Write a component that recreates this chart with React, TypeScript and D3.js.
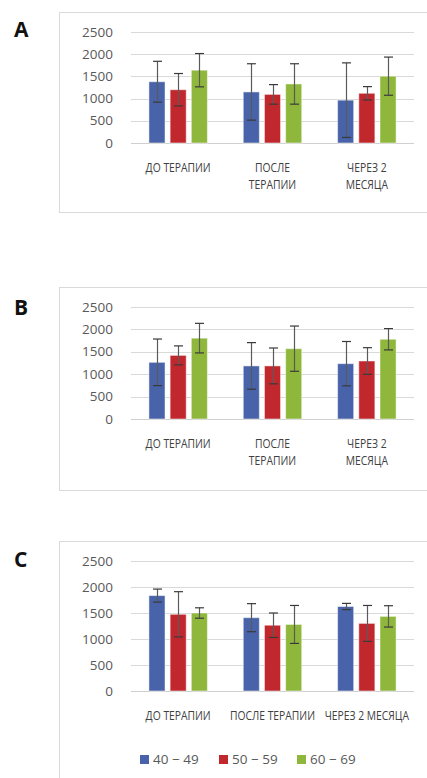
import React, { useEffect, useRef } from "react";
import * as d3 from "d3";

const categories = ["ДО ТЕРАПИИ", "ПОСЛЕ ТЕРАПИИ", "ЧЕРЕЗ 2 МЕСЯЦА"];
const wrappedCategories = [["ДО ТЕРАПИИ"], ["ПОСЛЕ", "ТЕРАПИИ"], ["ЧЕРЕЗ 2", "МЕСЯЦА"]];
const seriesNames = ["40 − 49", "50 − 59", "60 − 69"];
const seriesColors = ["#4863a9", "#c1282e", "#8eb73b"];
const yTicks = [0, 500, 1000, 1500, 2000, 2500];

// panel A: means and error (+/-) per series, one value per category
const meansA = [
  [1380, 1150, 965],
  [1200, 1095, 1120],
  [1640, 1330, 1505],
];
const errA = [
  [460, 635, 840],
  [365, 220, 150],
  [375, 455, 430],
];

const meansB = [
  [1265, 1185, 1235],
  [1420, 1185, 1295],
  [1805, 1570, 1780],
];
const errB = [
  [520, 520, 495],
  [212, 400, 297],
  [330, 505, 238],
];

const meansC = [
  [1835, 1410, 1625],
  [1475, 1265, 1300],
  [1500, 1280, 1435],
];
const errC = [
  [125, 270, 60],
  [435, 235, 345],
  [100, 365, 205],
];

const FONT = "'Open Sans', 'Noto Sans', sans-serif";
const TEXT = "#595959";

const panels = [
  { letter: "A", letterY: 37, frameTop: 12, frameBottom: 212, top: 32, bottom: 143, means: meansA, errs: errA, wrap: true },
  { letter: "B", letterY: 315, frameTop: 287, frameBottom: 490, top: 307, bottom: 419, means: meansB, errs: errB, wrap: true },
  { letter: "C", letterY: 567, frameTop: 541, frameBottom: 790, top: 561, bottom: 691, means: meansC, errs: errC, wrap: false },
];

const App = () => {
  const svgRef = useRef<SVGSVGElement | null>(null);

  useEffect(() => {
    const svg = d3.select(svgRef.current);
    svg.selectAll("*").remove();

    const plotLeft = 131;
    const plotRight = 414;

    const x0 = d3.scaleBand().domain(categories).range([plotLeft, plotRight]).paddingInner(0.38).paddingOuter(0.19);
    const x1 = d3.scaleBand().domain(seriesNames).range([0, x0.bandwidth()]).paddingInner(0.24);

    panels.forEach((p) => {
      const g = svg.append("g");
      const y = d3.scaleLinear().domain([0, 2500]).range([p.bottom, p.top]);

      g.append("rect")
        .attr("x", 59.5)
        .attr("y", p.frameTop + 0.5)
        .attr("width", 380)
        .attr("height", p.frameBottom - p.frameTop)
        .attr("fill", "#fff")
        .attr("stroke", "#d9d9d9")
        .attr("stroke-width", 1);

      g.append("text")
        .attr("x", 14)
        .attr("y", p.letterY)
        .attr("font-family", FONT)
        .attr("font-weight", "bold")
        .attr("font-size", 21)
        .attr("fill", "#111")
        .text(p.letter);

      g.selectAll(".grid")
        .data(yTicks)
        .enter()
        .append("line")
        .attr("x1", plotLeft)
        .attr("x2", plotRight)
        .attr("y1", (d) => Math.round(y(d)) + 0.5)
        .attr("y2", (d) => Math.round(y(d)) + 0.5)
        .attr("stroke", (d) => (d === 0 ? "#d0d0d0" : "#d9d9d9"))
        .attr("stroke-width", 1);

      g.selectAll(".ytick")
        .data(yTicks)
        .enter()
        .append("text")
        .attr("x", 113)
        .attr("y", (d) => y(d) + 4.5)
        .attr("text-anchor", "end")
        .attr("font-family", FONT)
        .attr("font-size", 13.5)
        .attr("fill", TEXT)
        .text((d) => d);

      seriesNames.forEach((s, si) => {
        categories.forEach((c, ci) => {
          const m = p.means[si][ci];
          const e = p.errs[si][ci];
          const bx = (x0(c) || 0) + (x1(s) || 0);
          const bw = x1.bandwidth();
          g.append("rect")
            .attr("x", bx)
            .attr("y", y(m))
            .attr("width", bw)
            .attr("height", y(0) - y(m))
            .attr("fill", seriesColors[si])
            .attr("stroke", "#fff")
            .attr("stroke-opacity", 0.5)
            .attr("stroke-width", 1);

          const cx = Math.round(bx + bw / 2) + 0.5;
          const eb = g.append("g").attr("stroke-width", 1.2);
          eb.append("line").attr("stroke", "#5a5a5a").attr("x1", cx).attr("x2", cx).attr("y1", y(m + e)).attr("y2", y(m - e));
          eb.append("line").attr("stroke", "#3a3a3a").attr("x1", cx - 4.5).attr("x2", cx + 4.5).attr("y1", y(m + e)).attr("y2", y(m + e));
          eb.append("line").attr("stroke", "#3a3a3a").attr("x1", cx - 4.5).attr("x2", cx + 4.5).attr("y1", y(m - e)).attr("y2", y(m - e));
        });
      });

      categories.forEach((c, ci) => {
        const lines = p.wrap ? wrappedCategories[ci] : [c];
        const cx = (x0(c) || 0) + x0.bandwidth() / 2;
        lines.forEach((l, li) => {
          g.append("text")
            .attr("transform", `translate(${cx},${p.bottom + 29 + li * 16.5}) scale(0.86,1)`)
            .attr("text-anchor", "middle")
            .attr("font-family", FONT)
            .attr("font-size", 12)
            .attr("fill", "#404040")
            .text(l);
        });
      });
    });

    // legend under panel C
    const legendX = [140, 219, 297];
    const lg = svg.append("g");
    seriesNames.forEach((s, i) => {
      lg.append("rect")
        .attr("x", legendX[i])
        .attr("y", 755)
        .attr("width", 9)
        .attr("height", 9)
        .attr("fill", seriesColors[i]);
      lg.append("text")
        .attr("x", legendX[i] + 13)
        .attr("y", 764)
        .attr("font-family", FONT)
        .attr("font-size", 13.5)
        .attr("fill", TEXT)
        .text(s);
    });
  }, []);

  return (
    <svg
      ref={svgRef}
      width={427}
      height={778}
      style={{ position: "absolute", left: 0, top: 0, background: "#fff" }}
    />
  );
};

export default App;
